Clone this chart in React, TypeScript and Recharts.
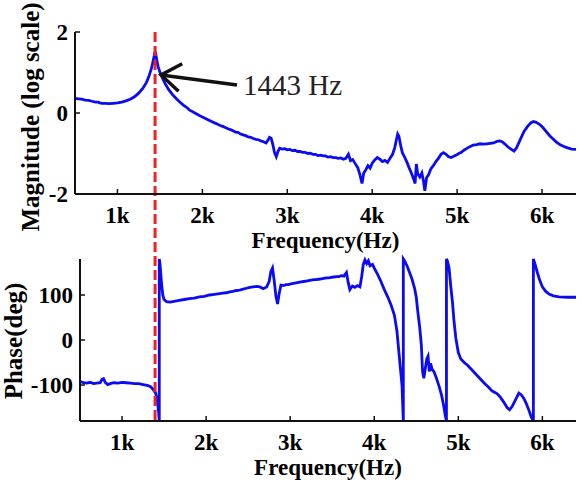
import { LineChart, Line, XAxis, YAxis, ReferenceLine } from 'recharts';

// magnitude trace (log scale)
const MAG_FREQ = [
  500, 540, 580, 620, 660, 700, 740, 770, 790, 820, 860, 900, 950, 1000, 1050, 1100, 1150, 1200, 1250, 1300,
  1340, 1370, 1400, 1420, 1435, 1443, 1452, 1465, 1480, 1500, 1530, 1560, 1600, 1650, 1700, 1740, 1780, 1820,
  1850, 1880, 1910, 1940, 1970, 2000, 2030, 2060, 2090, 2120, 2150, 2180, 2210, 2240, 2270, 2300, 2330, 2360,
  2390, 2420, 2450, 2480, 2510, 2540, 2570, 2600, 2630, 2660, 2690, 2720, 2750, 2770, 2790, 2810, 2830, 2850,
  2870, 2890, 2910, 2940, 2970, 3000, 3030, 3060, 3090, 3120, 3150, 3180, 3210, 3240, 3270, 3300, 3330, 3360,
  3390, 3420, 3450, 3480, 3510, 3540, 3570, 3600, 3630, 3660, 3690, 3720, 3745, 3770, 3800, 3830, 3855, 3880,
  3900, 3925, 3950, 3975, 4000, 4030, 4060, 4090, 4120, 4150, 4180, 4210, 4240, 4265, 4285, 4300, 4315, 4335,
  4355, 4380, 4410, 4440, 4465, 4490, 4505, 4520, 4535, 4560, 4585, 4605, 4620, 4640, 4665, 4690, 4720, 4750,
  4780, 4810, 4840, 4870, 4900, 4930, 4960, 4990, 5020, 5050, 5080, 5110, 5150, 5190, 5230, 5270, 5310, 5350,
  5390, 5430, 5470, 5500, 5530, 5560, 5600, 5640, 5670, 5700, 5730, 5760, 5790, 5830, 5870, 5900, 5930, 5970,
  6010, 6050, 6090, 6130, 6170, 6210, 6250, 6300, 6350, 6400,
];
const MAG_VALUE = [
  0.36, 0.35, 0.34, 0.32, 0.31, 0.29, 0.27, 0.27, 0.25, 0.24, 0.24, 0.23, 0.24, 0.25, 0.27, 0.3, 0.34, 0.4, 0.49, 0.61,
  0.75, 0.9, 1.1, 1.28, 1.44, 1.52, 1.45, 1.28, 1.14, 1.01, 0.86, 0.73, 0.59, 0.45, 0.34, 0.26, 0.19, 0.13,
  0.07, 0.04, 0.0, -0.03, -0.07, -0.1, -0.13, -0.16, -0.19, -0.22, -0.25, -0.28, -0.31, -0.33, -0.36, -0.39, -0.41, -0.44,
  -0.47, -0.48, -0.52, -0.54, -0.56, -0.59, -0.6, -0.63, -0.65, -0.66, -0.69, -0.71, -0.74, -0.68, -0.6, -0.62, -0.78, -0.98,
  -1.08, -0.95, -0.87, -0.89, -0.88, -0.91, -0.9, -0.93, -0.92, -0.95, -0.95, -0.97, -0.97, -1.0, -0.99, -1.02, -1.02, -1.05,
  -1.04, -1.06, -1.06, -1.09, -1.08, -1.1, -1.1, -1.12, -1.11, -1.14, -1.12, -1.02, -1.18, -1.15, -1.25, -1.35, -1.52, -1.74,
  -1.48, -1.4, -1.3, -1.36, -1.24, -1.16, -1.1, -1.14, -1.2, -1.17, -1.22, -1.12, -1.02, -0.86, -0.66, -0.52, -0.58, -0.8,
  -0.98, -1.08, -1.22, -1.38, -1.5, -1.64, -1.74, -1.26, -1.5, -1.58, -1.48, -1.7, -1.92, -1.6, -1.52, -1.38, -1.3, -1.2,
  -1.12, -1.02, -0.98, -1.02, -1.08, -1.1, -1.07, -1.04, -1.0, -0.97, -0.92, -0.88, -0.83, -0.79, -0.78, -0.76, -0.77, -0.76,
  -0.75, -0.74, -0.7, -0.69, -0.71, -0.76, -0.84, -0.9, -0.94, -0.86, -0.72, -0.58, -0.45, -0.33, -0.24, -0.21, -0.23, -0.28,
  -0.36, -0.46, -0.56, -0.64, -0.72, -0.78, -0.82, -0.86, -0.89, -0.9,
];

// phase trace in degrees, wraps at +-180 (repeated frequency = vertical jump)
const PHASE_FREQ = [
  500, 540, 580, 620, 660, 700, 740, 760, 780, 800, 830, 860, 900, 950, 1000, 1050, 1100, 1150, 1200, 1250,
  1300, 1340, 1370, 1400, 1420, 1435, 1443, 1443, 1450, 1460, 1470, 1485, 1500, 1530, 1570, 1620, 1680, 1740,
  1800, 1860, 1920, 1980, 2040, 2080, 2120, 2160, 2200, 2240, 2280, 2320, 2360, 2400, 2440, 2480, 2520, 2560,
  2600, 2640, 2680, 2720, 2750, 2770, 2790, 2810, 2830, 2850, 2870, 2890, 2920, 2950, 2980, 3010, 3040, 3070,
  3100, 3130, 3160, 3190, 3220, 3250, 3280, 3310, 3340, 3370, 3400, 3430, 3460, 3490, 3520, 3550, 3580, 3610,
  3640, 3670, 3690, 3710, 3740, 3770, 3800, 3830, 3850, 3870, 3890, 3910, 3930, 3950, 3980, 4010, 4040, 4080,
  4120, 4160, 4200, 4240, 4270, 4290, 4310, 4330, 4346, 4346, 4360, 4390, 4420, 4450, 4480, 4500, 4520, 4540,
  4560, 4575, 4590, 4610, 4625, 4640, 4655, 4670, 4690, 4710, 4740, 4770, 4800, 4825, 4845, 4859, 4859, 4870,
  4890, 4910, 4930, 4950, 4970, 5000, 5030, 5070, 5110, 5160, 5210, 5260, 5310, 5360, 5400, 5430, 5460, 5500,
  5540, 5580, 5610, 5640, 5680, 5720, 5750, 5780, 5810, 5840, 5870, 5893, 5893, 5910, 5940, 5970, 6000, 6040,
  6080, 6130, 6200, 6300, 6400,
];
const PHASE_VALUE = [
  -92, -95, -96, -94, -97, -96, -95, -88, -86, -94, -99, -97, -95, -96, -94, -95, -96, -97, -97, -99,
  -101, -104, -110, -118, -135, -160, -180, 180, 172, 150, 125, 100, 90, 85, 84, 86, 88, 90,
  92, 93, 96, 97, 100, 101, 102, 103, 104, 105, 107, 108, 110, 111, 113, 115, 117, 118,
  119, 118, 114, 118, 130, 152, 160, 132, 98, 80, 104, 122, 121, 123, 123, 125, 126, 127,
  128, 129, 130, 131, 132, 133, 134, 134, 135, 136, 137, 138, 138, 139, 140, 141, 141, 143,
  142, 150, 128, 112, 120, 117, 121, 118, 140, 168, 178, 170, 176, 165, 168, 156, 146, 130,
  112, 96, 78, 55, 20, -20, -60, -100, -180, 180, 176, 165, 150, 135, 115, 95, 60, 30,
  -10, -70, -85, -60, -42, -36, -70, -52, -66, -70, -85, -102, -122, -145, -168, -180, 180, 176,
  160, 120, 85, 40, 5, -28, -42, -50, -56, -66, -76, -86, -96, -105, -113, -116, -119, -127,
  -138, -150, -155, -148, -133, -118, -122, -130, -142, -156, -172, -180, 180, 170, 150, 132, 118, 108,
  102, 98, 96, 95, 95,
];

const FREQ_TICKS = [1000, 2000, 3000, 4000, 5000, 6000];
const MAG_TICKS = [-2, 0, 2];
const PHASE_TICKS = [-100, 0, 100];
const RESONANCE_HZ = 1443;
const ARROW_TAIL = { x: 2408, y: 0.69 };
const ARROW_TIP = { x: 1513, y: 0.94 };
const ANNOTATION = '1443 Hz';

const magData = MAG_FREQ.map((f, i) => ({ f, v: MAG_VALUE[i] }));
const phaseData = PHASE_FREQ.map((f, i) => ({ f, v: PHASE_VALUE[i] }));

const FONT = '"Liberation Serif", "Times New Roman", serif';
const BLUE = '#0a0af5';
const W = 582;

// layout
const TOP_H = 480;
const TOP_MARGIN = { top: 32, right: 6, left: 0, bottom: 226 };
const TOP_XH = 60;
const BOT_OFFSET = 240;
const BOT_H = 240;
const BOT_MARGIN = { top: 19, right: 6, left: 0, bottom: 0 };
const BOT_XH = 59;
const TOP_PLOT_BOTTOM = TOP_H - TOP_MARGIN.bottom - TOP_XH;
const BOT_PLOT_BOTTOM = BOT_OFFSET + BOT_H - BOT_MARGIN.bottom - BOT_XH;
const RED_EXTEND = BOT_PLOT_BOTTOM - TOP_PLOT_BOTTOM;

const boldText = { fill: '#000', fontWeight: 'bold', fontFamily: FONT };
const tickStyle = { ...boldText, fontSize: 23 };
const axisLine = { stroke: '#111', strokeWidth: 2 };
const tickLine = { stroke: '#111', strokeWidth: 1.5 };
const kFmt = (v: number) => `${v / 1000}k`;

const xLabel = (dy: number) => (props: any) => {
  const vb = props.viewBox;
  return (
    <text x={vb.x + vb.width / 2} y={vb.y + dy} textAnchor="middle" fontSize={23} {...boldText}>
      Frequency(Hz)
    </text>
  );
};

const yLabel = (text: string, cx: number, dy: number, size: number) => (props: any) => {
  const vb = props.viewBox;
  const cy = vb.y + vb.height / 2 + dy;
  return (
    <text x={cx} y={cy} transform={`rotate(-90, ${cx}, ${cy})`} textAnchor="middle" dy="0.35em"
      fontSize={size} {...boldText}>
      {text}
    </text>
  );
};

function ResonanceMarker(props: any) {
  const { x1, y1, x2, y2 } = props;
  const top = Math.min(y1, y2);
  const bottom = Math.max(y1, y2) + RED_EXTEND;
  return <line x1={x1} x2={x2} y1={top} y2={bottom} stroke="#ee2222" strokeWidth={3} strokeDasharray="10 4" />;
}

function Arrow(props: any) {
  const { x1, y1, x2, y2 } = props;
  const ang = Math.atan2(y1 - y2, x1 - x2);
  const len = 24;
  const spread = 0.62;
  const a = { x: x2 + len * Math.cos(ang - spread), y: y2 + len * Math.sin(ang - spread) };
  const b = { x: x2 + len * Math.cos(ang + spread), y: y2 + len * Math.sin(ang + spread) };
  return (
    <g>
      <line x1={x1} y1={y1} x2={x2} y2={y2} stroke="#111" strokeWidth={3.5} />
      <polyline points={`${a.x},${a.y} ${x2},${y2} ${b.x},${b.y}`} fill="none" stroke="#111" strokeWidth={3.5} />
      <text x={x1 + 6} y={y1} dy="0.34em" fontSize={29} fontFamily={FONT} fill="#222">{ANNOTATION}</text>
    </g>
  );
}

export default function App() {
  return (
    <div style={{ position: 'absolute', left: 0, top: 0, width: W, height: 480, background: '#fff' }}>
      <div style={{ position: 'absolute', left: 0, top: BOT_OFFSET }}>
        <LineChart width={W} height={BOT_H} data={phaseData} margin={BOT_MARGIN}>
          <XAxis xAxisId="b" dataKey="f" type="number" domain={[500, 6400]} ticks={FREQ_TICKS} tickFormatter={kFmt}
            tick={tickStyle} tickSize={-5} tickMargin={18} axisLine={axisLine} tickLine={tickLine} height={BOT_XH}
            label={xLabel(54)} />
          <XAxis xAxisId="t" orientation="top" dataKey="f" type="number" domain={[500, 6400]} ticks={FREQ_TICKS}
            tick={false} tickSize={-5} axisLine={axisLine} tickLine={tickLine} height={0} />
          <YAxis yAxisId="l" type="number" domain={[-180, 180]} ticks={PHASE_TICKS} tick={tickStyle} tickSize={-5}
            tickMargin={12} axisLine={axisLine} tickLine={tickLine} width={80}
            label={yLabel('Phase(deg)', 13, 1, 25)} />
          <YAxis yAxisId="r" orientation="right" type="number" domain={[-180, 180]} ticks={PHASE_TICKS} tick={false}
            tickSize={-5} axisLine={axisLine} tickLine={tickLine} width={0} />
          <Line xAxisId="b" yAxisId="l" type="linear" dataKey="v" stroke={BLUE} strokeWidth={2.8} dot={false}
            isAnimationActive={false} />
        </LineChart>
      </div>
      <div style={{ position: 'absolute', left: 0, top: 0 }}>
        <LineChart width={W} height={TOP_H} data={magData} margin={TOP_MARGIN}>
          <XAxis xAxisId="b" dataKey="f" type="number" domain={[500, 6400]} ticks={FREQ_TICKS} tickFormatter={kFmt}
            tick={tickStyle} tickSize={-5} tickMargin={18} axisLine={axisLine} tickLine={tickLine} height={TOP_XH}
            label={xLabel(54)} />
          <XAxis xAxisId="t" orientation="top" dataKey="f" type="number" domain={[500, 6400]} ticks={FREQ_TICKS}
            tick={false} tickSize={-5} axisLine={axisLine} tickLine={tickLine} height={0} />
          <YAxis yAxisId="l" type="number" domain={[-2, 2]} ticks={MAG_TICKS} tick={tickStyle} tickSize={-5}
            tickMargin={12} axisLine={axisLine} tickLine={tickLine} width={75}
            label={yLabel('Magnitude (log scale)', 30, 4, 25)} />
          <YAxis yAxisId="r" orientation="right" type="number" domain={[-2, 2]} ticks={MAG_TICKS} tick={false}
            tickSize={-5} axisLine={axisLine} tickLine={tickLine} width={0} />
          <Line xAxisId="b" yAxisId="l" type="linear" dataKey="v" stroke={BLUE} strokeWidth={2.8} dot={false}
            isAnimationActive={false} />
          <ReferenceLine xAxisId="b" yAxisId="l" x={RESONANCE_HZ} shape={ResonanceMarker} />
          <ReferenceLine xAxisId="b" yAxisId="l" segment={[ARROW_TAIL, ARROW_TIP]} shape={Arrow} />
        </LineChart>
      </div>
    </div>
  );
}
